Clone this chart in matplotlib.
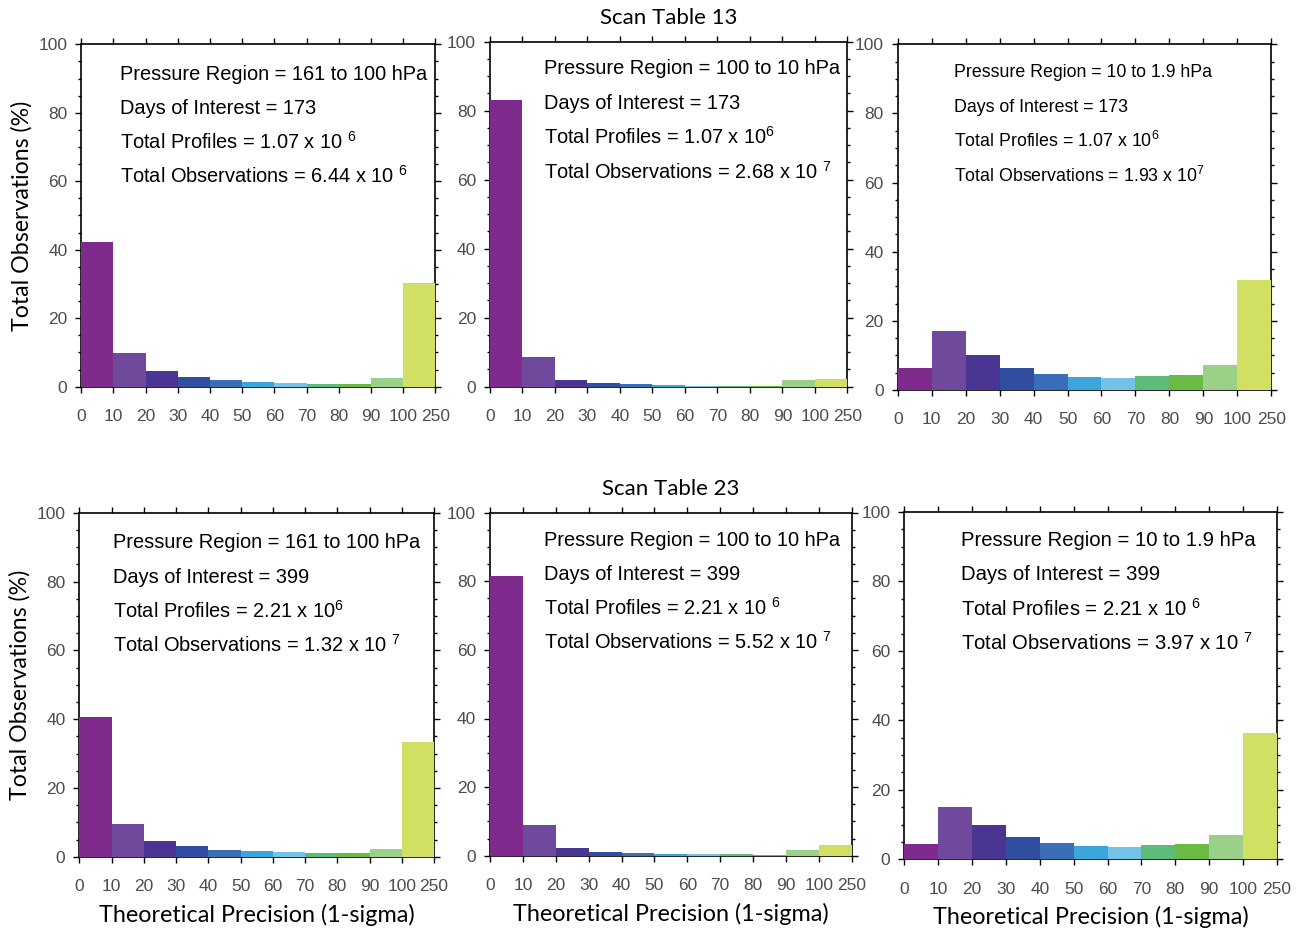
import numpy as np
import matplotlib.pyplot as plt
from matplotlib.ticker import MultipleLocator

plt.rcParams['font.family'] = ['Liberation Sans', 'DejaVu Sans']
plt.rcParams['mathtext.fontset'] = 'custom'
plt.rcParams['mathtext.rm'] = 'Liberation Sans'
plt.rcParams['mathtext.it'] = 'Liberation Sans:italic'

# bin labels (precision edges)
bin_labels = ['0', '10', '20', '30', '40', '50', '60', '70', '80', '90', '100', '250']
bin_colors = ['#7f2a8d', '#6f4a9c', '#4a3592', '#324ea0', '#3a6fb8', '#3ba6dc',
              '#74c2ea', '#5dbd78', '#6bba44', '#9bd088', '#d1df63']

# percent of observations per bin, scan table 13
st13_161_100 = [42.4, 9.7, 4.7, 2.9, 2.0, 1.5, 1.2, 0.9, 0.9, 2.4, 30.2]
st13_100_10 = [83.1, 8.6, 1.9, 1.0, 0.7, 0.4, 0.2, 0.3, 0.3, 1.9, 2.2]
st13_10_19 = [6.4, 17.1, 10.1, 6.4, 4.6, 3.8, 3.5, 4.1, 4.3, 7.2, 31.8]
# scan table 23
st23_161_100 = [40.6, 9.5, 4.6, 3.1, 1.9, 1.7, 1.4, 1.1, 1.1, 2.2, 33.3]
st23_100_10 = [81.5, 9.0, 2.2, 1.1, 0.8, 0.4, 0.4, 0.4, 0.2, 1.7, 3.1]
st23_10_19 = [4.4, 15.1, 9.9, 6.4, 4.7, 3.8, 3.6, 4.1, 4.4, 7.0, 36.4]

regions = ['161 to 100 hPa', '100 to 10 hPa', '10 to 1.9 hPa']
days = ['173', '399']
profiles = ['1.07', '2.21']
profiles_exp = ['6', '6']
observations = [['6.44', '2.68', '1.93'], ['1.32', '5.52', '3.97']]
observations_exp = [['6', '7', '7'], ['7', '7', '7']]
titles = ['Scan Table 13', 'Scan Table 23']

data = [[st13_161_100, st13_100_10, st13_10_19],
        [st23_161_100, st23_100_10, st23_10_19]]

W, H = 1301, 931
# axes boxes in pixels: left, right, top, bottom
boxes = [[(81.3, 435.3, 44.3, 386.7), (490, 847.3, 41.7, 386.7), (897.7, 1271.3, 44.3, 390)],
         [(79.3, 434, 512.7, 856.7), (490, 851.7, 512.7, 855.7), (904.3, 1277, 512, 859.3)]]
# text placement: x, first line y, font size, gap before exponent (profiles, observations)
txt = [[(0.11, 0.912, 14.4, (True, True)), (0.151, 0.921, 14.4, (False, True)), (0.151, 0.917, 12.8, (False, False))],
       [(0.095, 0.912, 14.4, (False, True)), (0.149, 0.920, 14.4, (True, True)), (0.152, 0.919, 14.6, (True, True))]]

fig = plt.figure(figsize=(W / 100, H / 100), dpi=100)
label_font = ['Lato', 'DejaVu Sans']

for r in range(2):
    for c in range(3):
        l, rt, t, b = boxes[r][c]
        ax = fig.add_axes([l / W, 1 - b / H, (rt - l) / W, (b - t) / H])
        vals = data[r][c]
        x = np.arange(len(vals))
        ax.bar(x, vals, width=1.0, align='edge', color=bin_colors, linewidth=0, zorder=3)
        ax.set_xlim(0, len(vals))
        ax.set_ylim(0, 100)
        ax.set_xticks(np.arange(len(bin_labels)))
        ax.set_xticklabels(bin_labels)
        ax.yaxis.set_major_locator(MultipleLocator(20))
        ax.yaxis.set_minor_locator(MultipleLocator(5))
        ax.tick_params(axis='both', which='both', direction='out', top=True, right=True,
                       labelsize=12.5, labelcolor='#4d4d4d', width=1.0)
        ax.tick_params(axis='x', which='major', length=4, pad=12)
        ax.tick_params(axis='y', which='major', length=4, pad=6)
        ax.tick_params(axis='y', which='minor', length=2.5)
        for s in ax.spines.values():
            s.set_linewidth(1.2)
        ax.spines['bottom'].set_zorder(2)

        tx, ty, fs, gaps = txt[r][c]
        step = 0.099
        pg = ' ' if gaps[0] else ''
        og = ' ' if gaps[1] else ''
        lines = ['Pressure Region = ' + regions[c],
                 'Days of Interest = ' + days[r],
                 'Total Profiles = ' + profiles[r] + ' x 10' + pg + '$^{' + profiles_exp[r] + '}$',
                 'Total Observations = ' + observations[r][c] + ' x 10' + og + '$^{' + observations_exp[r][c] + '}$']
        for i, s in enumerate(lines):
            ax.text(tx, ty - i * step, s, transform=ax.transAxes, fontsize=fs,
                    va='center', ha='left', color='black', zorder=5)

        if c == 0:
            ax.set_ylabel('Total Observations (%)', fontsize=16.7, family=label_font, labelpad=4)
        if r == 1:
            ax.set_xlabel('Theoretical Precision (1-sigma)', fontsize=16.8, family=label_font, labelpad=7)
        if c == 1:
            ax.set_title(titles[r], fontsize=16, family=label_font, pad=13)

fig.savefig('out.png', dpi=100)
